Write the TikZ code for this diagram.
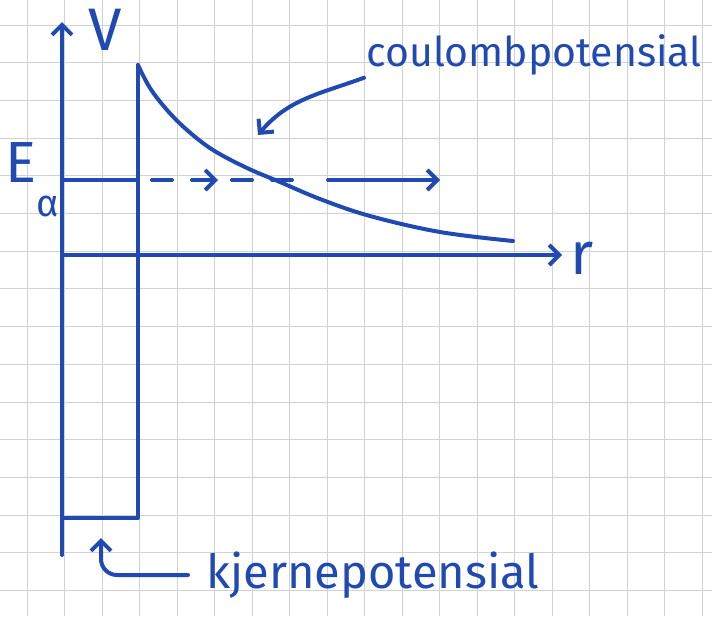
\documentclass[tikz,border=0pt]{standalone}
\usepackage{fontspec}
\setmainfont{Fira Sans}
\usetikzlibrary{arrows.meta}
\definecolor{ink}{RGB}{32,74,178}
\begin{document}
\begin{tikzpicture}[x=0.5pt, y=-0.5pt,
    >={Straight Barb[length=5pt,width=10pt]},
    pen/.style={ink, line width=2pt, line cap=round, line join=round},
    hand/.style={text=ink, inner sep=1pt, font=\fontsize{#1}{#1}\selectfont},
    hand/.default=21]
    \useasboundingbox (0,0) rectangle (712,616);
    \fill[white] (0,0) rectangle (712,616);

    \foreach \i in {0,...,18}
        \draw[gray!35, line width=0.5pt] ({27+37.5*\i},0) -- ++(0,616);
    \foreach \j in {0,...,15}
        \draw[gray!35, line width=0.5pt] (0,{25+37.7*\j}) -- ++(712,0);

    \coordinate (O) at (62,255);
    \coordinate (vtop) at (62,22);
    \coordinate (vbot) at (62,555);
    \coordinate (rend) at (562,255);
    \coordinate (walltop) at (138,65);
    \coordinate (wallbot) at (138,518);
    \coordinate (well) at (62,518);
    \coordinate (wellmid) at (101,538);
    \coordinate (Eleft) at (62,180);
    \coordinate (Ewall) at (138,180);
    \coordinate (hit) at (258,135);

    \draw[pen, ->] (vbot) -- (vtop);
    \draw[pen, ->] (O) -- (rend);
    \draw[pen] (walltop) -- (wallbot) -- (well);
    \draw[pen] (Eleft) -- (Ewall);
    \draw[pen, dash pattern=on 10pt off 10pt] (152,180) -- (292,180);
    \draw[pen, ->] (196,180) -- (218,180);
    \draw[pen, ->] (328,180) -- (440,180);

    \draw[pen] plot[smooth, tension=0.6] coordinates {
        (138,65) (150,88) (167,110) (187,130) (213,150) (247,168)
        (280,182) (320,199) (370,216) (440,232) (513,241)};

    \node[hand=30] (vlab) at (105,30) {V};
    \node[hand=30] (rlab) at (582,258) {r};
    \node[hand=29] (elab) at (32,180) {E\raisebox{-1.1ex}{\fontsize{19}{19}\selectfont α}};
    \node[hand=20.5, anchor=west] (coulomb) at (364,55) {coulombpotensial};
    \node[hand=23.5, anchor=west] (kjerne) at (204,575) {kjernepotensial};

    \draw[pen, ->] (coulomb.south west) to[out=200, in=50] (hit);
    \draw[pen, ->, rounded corners=8pt, shorten <=8pt] (kjerne.west) -| (wellmid);
\end{tikzpicture}
\end{document}
